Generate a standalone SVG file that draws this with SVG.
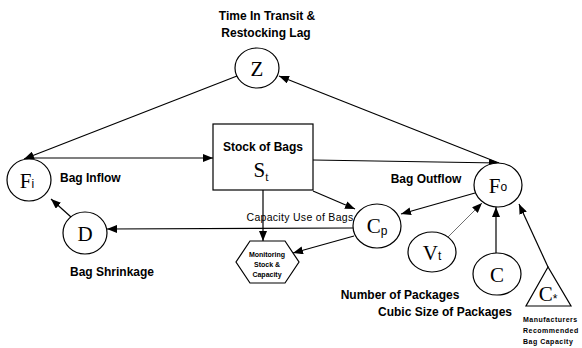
<svg xmlns="http://www.w3.org/2000/svg" width="582" height="348" viewBox="0 0 582 348">
<defs>
<marker id="ah" viewBox="0 0 10 8" refX="10" refY="4" markerWidth="10" markerHeight="8" markerUnits="userSpaceOnUse" orient="auto">
<path d="M0,0 L10,4 L0,8 Z" fill="#000"/>
</marker>
</defs>
<style>
.n{fill:#fff;stroke:#000;stroke-width:1.2}
.c{fill:none;stroke:#000;stroke-width:1.2;marker-end:url(#ah)}
.thin{stroke-width:0.7;stroke:#333}
.lbl{font-family:"Liberation Sans",Arial,sans-serif;font-size:12px;font-weight:bold;fill:#000}
.sm{font-family:"Liberation Sans",Arial,sans-serif;font-size:7px;font-weight:bold;fill:#000}
.sym{font-family:"Liberation Serif","Times New Roman",serif;font-size:21px;fill:#000;text-anchor:middle}
.sub{font-family:"Liberation Sans",Arial,sans-serif;font-size:12px}
</style>
<rect width="582" height="348" fill="#fff"/>
<g id="connectors">
<line class="c" x1="237" y1="76" x2="24" y2="159"/>
<line class="c" x1="30" y1="158" x2="213" y2="158"/>
<line class="c" x1="313" y1="160" x2="499" y2="163"/>
<line class="c" x1="499" y1="163" x2="279" y2="76"/>
<line class="c" x1="475" y1="193" x2="401" y2="214"/>
<line class="c" x1="313" y1="191" x2="355" y2="209"/>
<line class="c" x1="353" y1="228" x2="107" y2="229"/>
<line class="c" x1="71" y1="217" x2="51" y2="199"/>
<line class="c" x1="263" y1="190" x2="263" y2="241"/>
<line class="c" x1="354" y1="236" x2="293" y2="253"/>
<line class="c thin" x1="447" y1="238" x2="482" y2="203"/>
<line class="c" x1="496" y1="253" x2="496" y2="207"/>
<line class="c" x1="548" y1="267" x2="519" y2="204"/>
</g>
<g id="Z">
<ellipse class="n" cx="257" cy="68" rx="22" ry="20"/>
<text class="sym" x="257" y="76">Z</text>
<text class="lbl" x="267" y="20" text-anchor="middle">Time In Transit &amp;</text>
<text class="lbl" x="266" y="37" text-anchor="middle">Restocking Lag</text>
</g>
<g id="Fi">
<ellipse class="n" cx="29" cy="180" rx="22" ry="21"/>
<text class="sym" x="27" y="188">F<tspan class="sub" font-size="13">i</tspan></text>
<text class="lbl" x="60" y="182">Bag Inflow</text>
</g>
<g id="D">
<ellipse class="n" cx="85" cy="233" rx="22" ry="21"/>
<text class="sym" x="85" y="241">D</text>
<text class="lbl" x="112" y="276" text-anchor="middle">Bag Shrinkage</text>
</g>
<g id="St">
<rect class="n" x="213" y="124" width="100" height="66"/>
<text class="lbl" x="263" y="151" text-anchor="middle">Stock of Bags</text>
<text class="sym" x="261" y="177">S<tspan font-size="12" dy="4">t</tspan></text>
</g>
<g id="Cp">
<ellipse class="n" cx="377" cy="226" rx="24" ry="22"/>
<text class="sym" x="377" y="233">C<tspan class="sub" font-size="17" dy="2">p</tspan></text>
<text x="300" y="221" text-anchor="middle" font-family="Liberation Sans, Arial, sans-serif" font-size="10.5" letter-spacing="0.3">Capacity Use of Bags</text>
</g>
<g id="Mon">
<polygon class="n" points="250,241 285,241 299,262 285,283 250,283 236,262"/>
<text class="sm" x="267" y="257" text-anchor="middle">Monitoring</text>
<text class="sm" x="267" y="267" text-anchor="middle">Stock &amp;</text>
<text class="sm" x="267" y="277" text-anchor="middle">Capacity</text>
</g>
<g id="Fo">
<ellipse class="n" cx="498" cy="185" rx="24" ry="22"/>
<text class="sym" x="498" y="193">F<tspan class="sub" font-size="11" dy="-2">o</tspan></text>
<text class="lbl" x="426" y="183" text-anchor="middle">Bag Outflow</text>
</g>
<g id="Vt">
<ellipse class="n" cx="432" cy="252" rx="24" ry="20"/>
<text class="sym" x="432" y="260">V<tspan class="sub" font-size="16">t</tspan></text>
<text class="lbl" x="400" y="299" text-anchor="middle">Number of Packages</text>
</g>
<g id="C">
<ellipse class="n" cx="497" cy="274" rx="24" ry="21"/>
<text class="sym" x="497" y="282">C</text>
<text class="lbl" x="445" y="316" text-anchor="middle" font-size="11">Cubic Size of Packages</text>
</g>
<g id="Cstar">
<polygon class="n" points="548,267 526,306 571,306"/>
<text class="sym" x="548" y="301" font-size="18">C<tspan class="sub" font-size="11" dy="2">*</tspan></text>
<text class="sm" x="523" y="322" letter-spacing="0.5">Manufacturers</text>
<text class="sm" x="523" y="333" letter-spacing="0.5">Recommended</text>
<text class="sm" x="523" y="344" letter-spacing="0.5">Bag Capacity</text>
</g>
</svg>
